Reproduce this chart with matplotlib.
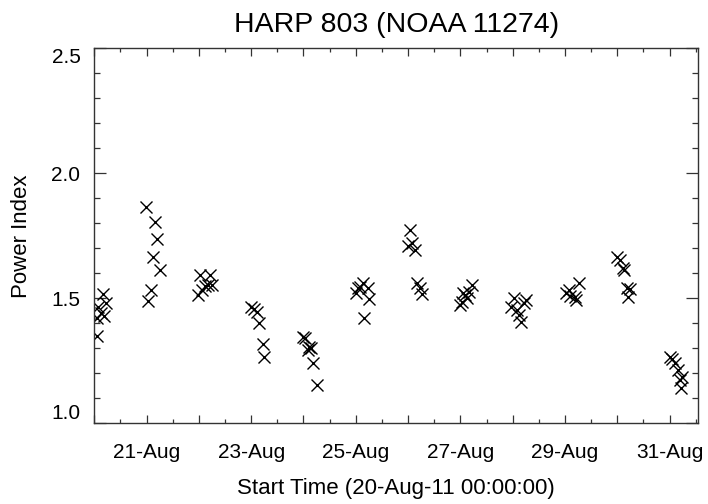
import numpy as np
import matplotlib
matplotlib.use("Agg")
import matplotlib.pyplot as plt
from matplotlib.ticker import MultipleLocator, FixedLocator, FixedFormatter

# start time in days since 20-Aug-11 00:00:00
start_day = [
    0.166, 0.230, 0.071, 0.122, 0.186, 0.052, 0.046,
    0.989, 1.162, 1.206, 1.123, 1.251, 1.079, 1.033,
    2.023, 2.214, 2.118, 2.181, 2.246, 2.055, 1.990,
    2.993, 3.062, 3.108, 3.157, 3.222, 3.253,
    3.999, 4.032, 4.114, 4.141, 4.095, 4.191, 4.256,
    5.008, 5.052, 5.136, 5.084, 5.243, 5.262, 5.161,
    6.041, 6.073, 6.008, 6.137, 6.169, 6.219, 6.265,
    6.998, 7.030, 7.093, 7.157, 7.222, 7.126, 7.058,
    8.018, 8.209, 8.261, 7.968, 8.083, 8.113, 8.165,
    9.026, 9.070, 9.103, 9.217, 9.261, 9.185,
    9.996, 10.046, 10.111, 10.136, 10.188, 10.237, 10.207,
    11.016, 11.049, 11.112, 11.156, 11.240, 11.195, 11.221,
]
power_index = [
    1.517, 1.481, 1.465, 1.441, 1.429, 1.421, 1.349,
    1.866, 1.805, 1.736, 1.664, 1.613, 1.533, 1.490,
    1.594, 1.594, 1.549, 1.554, 1.554, 1.532, 1.512,
    1.466, 1.456, 1.446, 1.400, 1.317, 1.264,
    1.346, 1.340, 1.304, 1.300, 1.293, 1.242, 1.153,
    1.520, 1.540, 1.560, 1.546, 1.540, 1.496, 1.420,
    1.773, 1.722, 1.709, 1.693, 1.560, 1.540, 1.517,
    1.473, 1.486, 1.513, 1.526, 1.553, 1.500, 1.520,
    1.500, 1.480, 1.493, 1.466, 1.453, 1.433, 1.406,
    1.522, 1.533, 1.509, 1.493, 1.560, 1.506,
    1.666, 1.653, 1.620, 1.613, 1.540, 1.536, 1.506,
    1.266, 1.256, 1.240, 1.213, 1.184, 1.173, 1.140,
]
day_ticks = [1, 3, 5, 7, 9, 11]
day_labels = ["21-Aug", "23-Aug", "25-Aug", "27-Aug", "29-Aug", "31-Aug"]
y_ticks = [1.0, 1.5, 2.0, 2.5]
y_labels = ["1.0", "1.5", "2.0", "2.5"]


def main():
    plt.rcParams["font.family"] = ["Liberation Sans", "DejaVu Sans"]
    fig = plt.figure(figsize=(7.08, 5.04), dpi=100)
    ax = fig.add_axes([94.3 / 708, 1 - 423.3 / 504, 604 / 708, 375 / 504])

    ax.plot(start_day, power_index, linestyle="none", marker="x",
            markersize=9, markeredgewidth=1.0, color="black")

    ax.set_xlim(0, 11.55)
    ax.set_ylim(1.0, 2.5)

    # x: long ticks every day, short every 12 h, labels every 2 days
    all_days = np.arange(0, 12)
    ax.set_xticks(all_days)
    ax.set_xticklabels([day_labels[day_ticks.index(d)] if d in day_ticks else ""
                        for d in all_days])
    ax.xaxis.set_minor_locator(MultipleLocator(0.5))
    ax.yaxis.set_major_locator(FixedLocator(y_ticks))
    ax.yaxis.set_major_formatter(FixedFormatter(y_labels))
    ax.yaxis.set_minor_locator(MultipleLocator(0.1))

    ax.tick_params(axis="both", which="both", direction="in",
                   top=True, right=True, labelsize=15, width=0.9,
                   color="#333333")
    ax.tick_params(axis="x", which="major", length=5.5, pad=14)
    ax.tick_params(axis="x", which="minor", length=3)
    ax.tick_params(axis="y", which="major", length=8.5, pad=10)
    ax.tick_params(axis="y", which="minor", length=4.3)

    # IDL-style end labels kept inside the axis span
    ylabs = ax.get_yticklabels()
    ylabs[0].set_verticalalignment("bottom")
    ylabs[-1].set_verticalalignment("top")

    for s in ax.spines.values():
        s.set_linewidth(1.0)
        s.set_color("#333333")

    ax.set_xlabel("Start Time (20-Aug-11 00:00:00)", fontsize=16, labelpad=12)
    ax.set_ylabel("Power Index", fontsize=16, labelpad=14)
    ax.set_title("HARP 803 (NOAA 11274)", fontsize=20.5, pad=12)

    fig.savefig("out.png", dpi=100)


if __name__ == "__main__":
    main()
